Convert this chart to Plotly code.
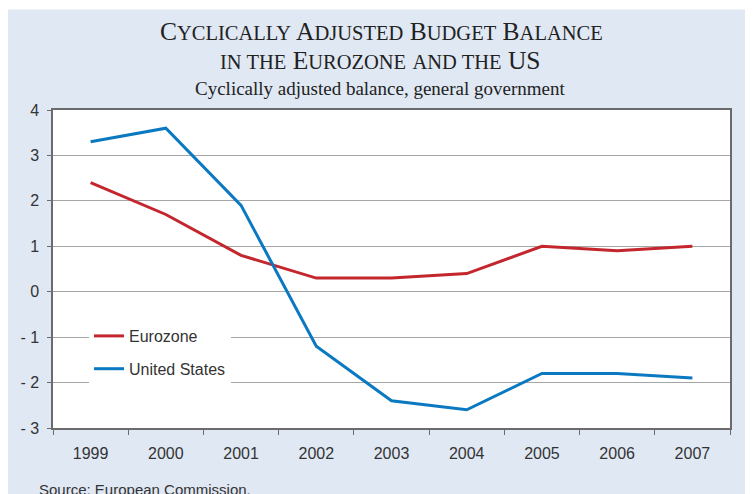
import plotly.graph_objects as go

years = ["1999", "2000", "2001", "2002", "2003", "2004", "2005", "2006", "2007"]
eurozone = [2.4, 1.7, 0.8, 0.3, 0.3, 0.4, 1.0, 0.9, 1.0]
united_states = [3.3, 3.6, 1.9, -1.2, -2.4, -2.6, -1.8, -1.8, -1.9]
y_ticks = [-3, -2, -1, 0, 1, 2, 3, 4]
y_tick_labels = ["- 3", "- 2", "- 1", "0", "1", "2", "3", "4"]

# the page body puts the figure 8px in from the top-left corner
OFF = 8
W, H = 753 - OFF, 494 - OFF
L, R, T, B = 53 - OFF, 753 - 730, 110 - OFF, 494 - 428
pw, ph = W - L - R, H - T - B

def px_x(p):
    return (p - OFF - L) / pw

def px_y(p):
    return (H - B - (p - OFF)) / ph

BG = "#e0e8f4"
fig = go.Figure()
fig.add_trace(go.Scatter(x=years, y=eurozone, mode="lines", name="Eurozone",
                         line=dict(color="#c4262e", width=3), legendgroup="a"))
fig.add_trace(go.Scatter(x=years, y=united_states, mode="lines", name="United States",
                         line=dict(color="#0b79c1", width=3), legendgroup="b"))

def sc(word, small=20.5):
    return f"<span style='font-size:{small}px'>{word}</span>"

line1 = ("C" + sc("YCLICALLY") + " A" + sc("DJUSTED") + " B" + sc("UDGET")
         + " B" + sc("ALANCE"))
line2 = sc("IN THE") + " E" + sc("UROZONE") + " " + sc("AND THE") + " US"

serif = "Liberation Serif"
fig.add_annotation(text=line1, x=px_x(381), y=px_y(31.5), xref="paper", yref="paper",
                   xanchor="center", yanchor="middle",
                   showarrow=False, font=dict(family=serif, size=25.5, color="#222"))
fig.add_annotation(text=line2, x=px_x(380), y=px_y(61), xref="paper", yref="paper",
                   xanchor="center", yanchor="middle",
                   showarrow=False, font=dict(family=serif, size=25.5, color="#222"))
fig.add_annotation(text="Cyclically adjusted balance, general government", x=px_x(380), y=px_y(88),
                   xref="paper", yref="paper", xanchor="center", yanchor="middle", showarrow=False,
                   font=dict(family=serif, size=19, color="#222"))
fig.add_annotation(text="Source: European Commission.", x=px_x(37), y=px_y(489.5),
                   xref="paper", yref="paper", xanchor="left", yanchor="middle", showarrow=False,
                   font=dict(family="Liberation Sans", size=15, color="#333"))

# 1px white strip at the very top of the page
fig.add_shape(type="rect", xref="paper", yref="paper", x0=px_x(0), x1=px_x(760), y0=px_y(8), y1=px_y(9.5),
              fillcolor="white", line=dict(width=0), layer="below")

fig.update_layout(
    width=W, height=H, margin=dict(l=L, r=R, t=T, b=B),
    paper_bgcolor=BG, plot_bgcolor="white",
    font=dict(family="Liberation Sans", size=16, color="#333"),
    showlegend=True,
    legend=dict(x=px_x(89), y=px_y(319), xanchor="left", yanchor="top",
                bgcolor="white", font=dict(size=16, color="#333"),
                traceorder="grouped", tracegroupgap=9, itemwidth=30),
    xaxis=dict(type="category", range=[-0.5, 8.5], showgrid=False,
               showline=True, linecolor="#6b6b6b", linewidth=1.5, mirror=True,
               ticks="outside", ticklen=5, tickcolor="#6b6b6b", tickson="boundaries",
               ticklabelstandoff=10, fixedrange=True),
    yaxis=dict(range=[-3, 4], tickvals=y_ticks, ticktext=y_tick_labels,
               showgrid=True, gridcolor="#a6a6a6", gridwidth=1, zeroline=False,
               showline=True, linecolor="#6b6b6b", linewidth=1.5, mirror=True,
               ticks="outside", ticklen=4, tickcolor="#6b6b6b", ticklabelstandoff=5,
               fixedrange=True),
)

fig.write_html("out.html")
